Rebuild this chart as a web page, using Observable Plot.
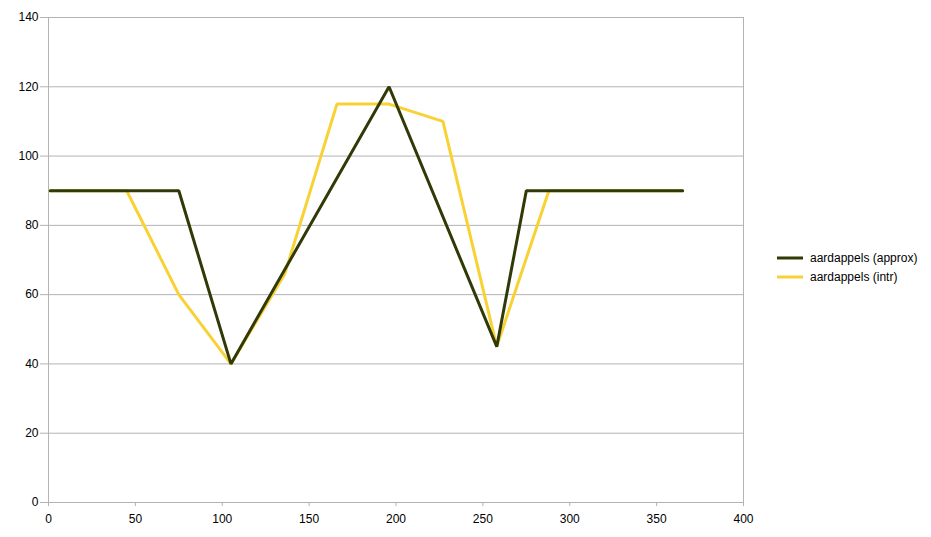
<!DOCTYPE html>
<html>
<head>
<meta charset="utf-8">
<script src="https://cdn.jsdelivr.net/npm/d3@7"></script>
<script src="https://cdn.jsdelivr.net/npm/@observablehq/plot@0.6"></script>
<style>
  body { margin: 0; background: #fff; }
  #wrap { position: relative; width: 931px; height: 537px; font-family: "Liberation Sans", Arial, sans-serif; }
  #legend { position: absolute; left: 777px; top: 249px; font-size: 12px; color: #000; }
  .row { display: flex; align-items: center; height: 18.5px; }
  .row svg { margin-right: 7px; }
</style>
</head>
<body>
<div id="wrap">
  <div id="chart"></div>
  <div id="legend"></div>
</div>
<script>
// Series data
const approxX = [1, 75, 105, 196, 258, 275, 365];
const approxY = [90, 90, 40, 120, 45, 90, 90];
const intrX = [1, 45, 75, 105, 136, 166, 196, 227, 258, 288, 365];
const intrY = [90, 90, 60, 40, 66, 115, 115, 110, 45, 90, 90];
const seriesNames = ["aardappels (approx)", "aardappels (intr)"];
const seriesColors = ["#2f3a06", "#f8d235"];
const xTicks = [0, 50, 100, 150, 200, 250, 300, 350, 400];
const yTicks = [0, 20, 40, 60, 80, 100, 120, 140];

const approx = approxX.map((x, i) => ({x, y: approxY[i]}));
const intr = intrX.map((x, i) => ({x, y: intrY[i]}));

const chart = Plot.plot({
  width: 931,
  height: 537,
  marginLeft: 48,
  marginRight: 188,
  marginTop: 17,
  marginBottom: 35,
  style: {fontFamily: "'Liberation Sans', Arial, sans-serif", fontSize: "12px", color: "#000", background: "#fff"},
  x: {domain: [0, 400], label: null},
  y: {domain: [0, 140], label: null},
  marks: [
    Plot.gridY(yTicks, {stroke: "#b3b3b3", strokeOpacity: 1}),
    Plot.ruleX([0, 400], {stroke: "#b3b3b3"}),
    Plot.axisX(xTicks, {tickSize: 4, tickPadding: 8, stroke: "#b3b3b3", fill: "#000", fontSize: 12, label: null}),
    Plot.axisY(yTicks, {tickSize: 8, tickPadding: 2, stroke: "#b3b3b3", fill: "#000", fontSize: 12, label: null}),
    Plot.line(intr, {x: "x", y: "y", stroke: seriesColors[1], strokeWidth: 3, strokeLinejoin: "miter"}),
    Plot.line(approx, {x: "x", y: "y", stroke: seriesColors[0], strokeWidth: 3, strokeLinejoin: "miter"})
  ]
});
document.getElementById("chart").appendChild(chart);

const legend = document.getElementById("legend");
seriesNames.forEach((name, i) => {
  const row = document.createElement("div");
  row.className = "row";
  row.innerHTML = `<svg width="26" height="6"><line x1="0" x2="26" y1="3" y2="3" stroke="${seriesColors[i]}" stroke-width="3"/></svg><span>${name}</span>`;
  legend.appendChild(row);
});
</script>
</body>
</html>
